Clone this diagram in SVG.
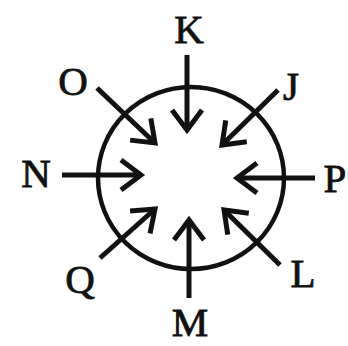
<svg xmlns="http://www.w3.org/2000/svg" width="348" height="346" viewBox="0 0 348 346">
<style>
.lbl{font-family:"Liberation Serif","Times New Roman",serif;font-size:41px;fill:#111;stroke:#111;stroke-width:0.8;text-anchor:middle}
.ar{stroke:#111;stroke-width:5;fill:none;marker-end:url(#chev)}
</style>
<defs>
<marker id="chev" markerUnits="userSpaceOnUse" viewBox="-30 -20 40 40" refX="0" refY="0" markerWidth="40" markerHeight="40" orient="auto" overflow="visible">
<path d="M-20,-15 L0,0 L-20,15" fill="none" stroke="#111" stroke-width="5" stroke-linejoin="miter" stroke-linecap="butt"/>
</marker>
</defs>
<g id="ring"><ellipse cx="191" cy="178" rx="93" ry="91" fill="none" stroke="#111" stroke-width="4.5"/></g>
<g id="connectors">
<line class="ar" x1="187" y1="55" x2="187" y2="130"/>
<line class="ar" x1="278" y1="90" x2="222" y2="145"/>
<line class="ar" x1="315" y1="178" x2="237" y2="178"/>
<line class="ar" x1="280" y1="265" x2="224" y2="210"/>
<line class="ar" x1="189" y1="298" x2="189" y2="220"/>
<line class="ar" x1="100" y1="258" x2="155" y2="209"/>
<line class="ar" x1="62" y1="175" x2="141" y2="175"/>
<line class="ar" x1="97" y1="88" x2="155" y2="143"/>
</g>
<g id="K"><text class="lbl" x="189" y="43">K</text></g>
<g id="J"><text class="lbl" x="291" y="100">J</text></g>
<g id="P"><text class="lbl" x="335" y="192">P</text></g>
<g id="L"><text class="lbl" x="303" y="287">L</text></g>
<g id="M"><text class="lbl" x="190" y="336">M</text></g>
<g id="Q"><text class="lbl" x="80" y="293">Q</text></g>
<g id="N"><text class="lbl" x="36" y="187">N</text></g>
<g id="O"><text class="lbl" x="73" y="95">O</text></g>
</svg>
